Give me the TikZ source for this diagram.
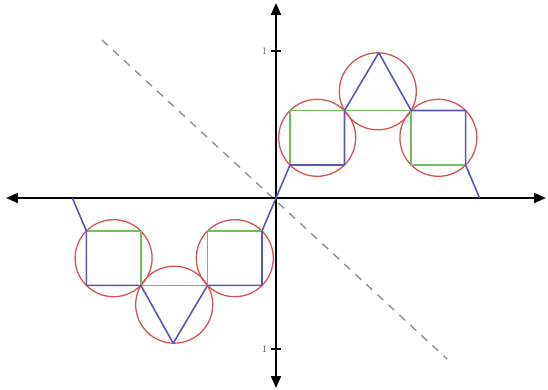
\documentclass[tikz,border=0pt]{standalone}
\usetikzlibrary{arrows.meta}
\definecolor{circred}{RGB}{214,84,84}
\definecolor{pathblue}{RGB}{88,88,180}
\definecolor{pathgreen}{RGB}{112,192,96}
\definecolor{dashgray}{RGB}{150,150,150}
\tikzset{
  axisline/.style={black, line width=2pt, -{Triangle[length=12pt,width=10pt]}},
  circ/.style={circred, line width=1.3pt},
  bluepath/.style={pathblue, line width=1.6pt, line join=round},
  greenpath/.style={pathgreen, line width=1.6pt},
  diag/.style={dashgray, line width=1.5pt, dash pattern=on 8pt off 7pt},
  tickmark/.style={black, line width=1.2pt},
  ticklabel/.style={font=\fontsize{10}{11}\selectfont, text=black!70, inner sep=1pt}
}
\begin{document}
\begin{tikzpicture}[x=1pt,y=1pt]
\useasboundingbox (-276,-192) rectangle (272,198);
% coordinates
\coordinate (O) at (0,0);
\def\r{38.5}
% upper right figure
\coordinate (a0) at (14,33);
\coordinate (a1) at (68.45,33);
\coordinate (a2) at (68.45,87.45);
\coordinate (a3) at (14,87.45);
\coordinate (t1) at (102.8,145.2);
\coordinate (b2) at (135.15,87.45);
\coordinate (b3) at (189.6,87.45);
\coordinate (b0) at (189.6,33);
\coordinate (b1) at (135.15,33);
\coordinate (e1) at (203.6,0);
\coordinate (c1) at (41.2,60.2);
\coordinate (c2) at (101.8,106.7);
\coordinate (c3) at (162.4,60.2);
% lower left figure
\coordinate (p0) at (-14,-33);
\coordinate (p1) at (-68.45,-33);
\coordinate (p2) at (-68.45,-87.45);
\coordinate (p3) at (-14,-87.45);
\coordinate (t2) at (-102.8,-145.2);
\coordinate (q2) at (-135.15,-87.45);
\coordinate (q3) at (-189.6,-87.45);
\coordinate (q0) at (-189.6,-33);
\coordinate (q1) at (-135.15,-33);
\coordinate (e2) at (-203.6,0);
\coordinate (d1) at (-41.2,-60.2);
\coordinate (d2) at (-101.8,-106.7);
\coordinate (d3) at (-162.4,-60.2);
% dashed diagonal
\coordinate (g1) at (-174,158);
\coordinate (g2) at (171,-161);
\draw[diag] (g1) -- (g2);
% axes
\coordinate (xl) at (-270,0);
\coordinate (xr) at (270,0);
\coordinate (yt) at (0,195);
\coordinate (yb) at (0,-190);
\draw[axisline] (O) -- (xr);
\draw[axisline] (O) -- (xl);
\draw[axisline] (O) -- (yt);
\draw[axisline] (O) -- (yb);
% ticks
\coordinate (k1) at (0,147);
\coordinate (k2) at (0,-151);
\draw[tickmark] ([xshift=-5pt]k1) -- ([xshift=5pt]k1);
\draw[tickmark] ([xshift=-5pt]k2) -- ([xshift=5pt]k2);
\node[ticklabel, anchor=east] (l1) at ([xshift=-8pt]k1) {1};
\node[ticklabel, anchor=east] (l2) at ([xshift=-8pt]k2) {1};
% circles
\foreach \c in {c1,c2,c3,d1,d2,d3} \draw[circ] (\c) circle (\r);
% green edges
\draw[greenpath] (a0) -- (a3) -- (a2) -- (b2);
\draw[greenpath] (b2) -- (b1) -- (b0);
\draw[greenpath] (p0) -- (p1) -- (p2) -- (q2);
\draw[greenpath] (q0) -- (q1) -- (q2);
% blue path
\draw[bluepath] (O) -- (a0) -- (a1) -- (a2) -- (t1) -- (b2) -- (b3) -- (b0) -- (e1);
\draw[bluepath] (O) -- (p0) -- (p3) -- (p2) -- (t2) -- (q2) -- (q3) -- (q0) -- (e2);
\end{tikzpicture}
\end{document}
